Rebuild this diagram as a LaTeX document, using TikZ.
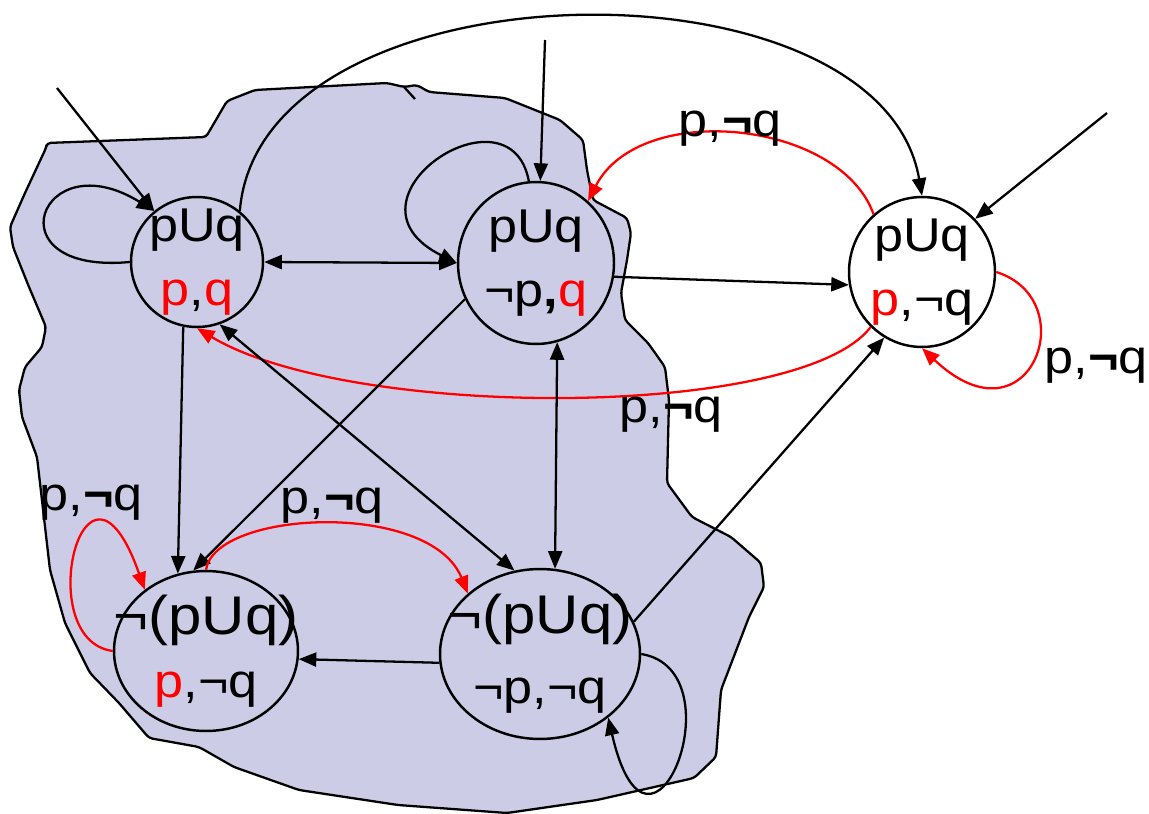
\documentclass[tikz,border=0pt]{standalone}
\usepackage{fontspec}
\setmainfont{Liberation Sans}[FakeStretch=1.1]
\usetikzlibrary{arrows.meta, shapes.geometric}
\definecolor{blobfill}{RGB}{204,204,230}

\begin{document}
\begin{tikzpicture}[x=0.02cm, y=-0.02cm, line width=1.3pt,
    every node/.style={font=\fontsize{27}{36}\selectfont},
    state/.style={draw, ellipse, line width=1.4pt, inner sep=0pt},
    inside/.style={align=center, inner sep=0pt},
    lbl/.style={anchor=base, inner sep=0pt},
    arr/.style={-{Triangle[length=10pt,width=8pt]}},
    darr/.style={{Triangle[length=10pt,width=8pt]}-{Triangle[length=10pt,width=8pt]}},
    redarr/.style={arr, red}]
    \useasboundingbox (0,0) rectangle (1149,814);
    % der Bereich
    \draw[fill=blobfill, line width=1.3pt, rounded corners=2pt]
      (47,143) -- (206,137) -- (227,101) -- (255,90) -- (387,83) -- (404,87)
      -- (417,85) -- (429,92) -- (505,98) -- (560,120) -- (583,140) -- (587,170)
      -- (593,200) -- (627,218) -- (631,233) -- (627,260) -- (621,293) -- (625,320)
      -- (648,343) -- (665,367) -- (669,400) -- (667,483) -- (692,517) -- (731,537)
      -- (761,563) -- (764,587) -- (749,617) -- (721,690) -- (716,757) -- (694,778)
      -- (597,800) -- (507,813) -- (398,805) -- (299,790) -- (234,767) -- (199,747)
      -- (149,738) -- (119,703) -- (90,673) -- (65,623) -- (50,570) -- (37,457)
      -- (22,417) -- (19,390) -- (25,367) -- (42,347) -- (46,327) -- (29,287)
      -- (13,247) -- (10,227) -- (25,193) -- (46,148) -- cycle;
    \draw[line width=1.3pt] (404,87) -- (415,99);
    % Zustaende
    \node[state, minimum width=2.64cm, minimum height=2.6cm,
      label={[inside, name=At]center:pUq\\\textcolor{red}{p},\textcolor{red}{q}}]
      (A) at (197,262) {};
    \node[state, minimum width=3.12cm, minimum height=3.24cm,
      label={[inside, name=Bt]center:pUq\\¬p{\bfseries ,}\textcolor{red}{q}}]
      (B) at (536,263) {};
    \node[state, minimum width=2.92cm, minimum height=3.0cm,
      label={[inside, name=Ct]center:pUq\\\textcolor{red}{p},¬q}]
      (C) at (922,272) {};
    \node[state, minimum width=3.68cm, minimum height=3.2cm,
      label={[inside, name=Dt]center:{\fontsize{31}{36}\selectfont ¬(pUq)}\\\textcolor{red}{p},¬q}]
      (D) at (206,651) {};
    \node[state, minimum width=4.0cm, minimum height=3.4cm,
      label={[inside, name=Et]center:{\fontsize{31}{36}\selectfont ¬(pUq)}\\[4pt]¬p,¬q}]
      (E) at (540,654) {};
    % Startpfeile
    \coordinate (iA) at (57,88);
    \coordinate (iB) at (545,40);
    \coordinate (iC) at (1107,113);
    \draw[arr] (iA) -- (A.130);
    \draw[arr] (iB) -- (B.87);
    \draw[arr] (iC) -- (C.45);
    % Schleifen
    \draw[arr] (A.180) .. controls (-10,275) and (40,140) .. (A.130);
    \draw[arr] (B.95) .. controls (510,80) and (330,200) .. (B.180);
    \draw[arr] (E.0) .. controls (740,670) and (650,900) .. (E.317);
    \draw[redarr] (C.0) .. controls (1085,300) and (1030,450) .. (C.270);
    \draw[redarr] (D.180) .. controls (30,640) and (85,420) .. (D.135);
    % Uebergaenge
    \draw[darr] (A.east) -- (B.west);
    \draw[arr] (A.50) .. controls (260,-40) and (880,-50) .. (C.north);
    \draw[arr] (B.-10) -- (C.190);
    \draw[redarr] (C.130) .. controls (840,120) and (640,100) .. (B.50);
    \draw[redarr] (C.227) .. controls (800,420) and (350,420) .. (A.south);
    \draw[arr] (A.258) -- (D.110);
    \draw[arr] (B.207) -- (D.99);
    \draw[darr] (A.290) -- (E.107);
    \draw[darr] (B.285) -- (E.80);
    \draw[arr] (E.19) -- (C.240);
    \draw[arr] (E.185) -- (D.355);
    \draw[redarr] (D.90) .. controls (215,510) and (430,500) .. (E.140);
    % Beschriftungen
    \node[lbl] (lBC) at (730,137) {p,{\bfseries ¬}q};
    \node[lbl] (lCC) at (1096,373) {p,{\bfseries ¬}q};
    \node[lbl] (lCA) at (671,422) {p,{\bfseries ¬}q};
    \node[lbl] (lDD) at (91,510) {p,{\bfseries ¬}q};
    \node[lbl] (lDE) at (332,513) {p,{\bfseries ¬}q};
\end{tikzpicture}
\end{document}
